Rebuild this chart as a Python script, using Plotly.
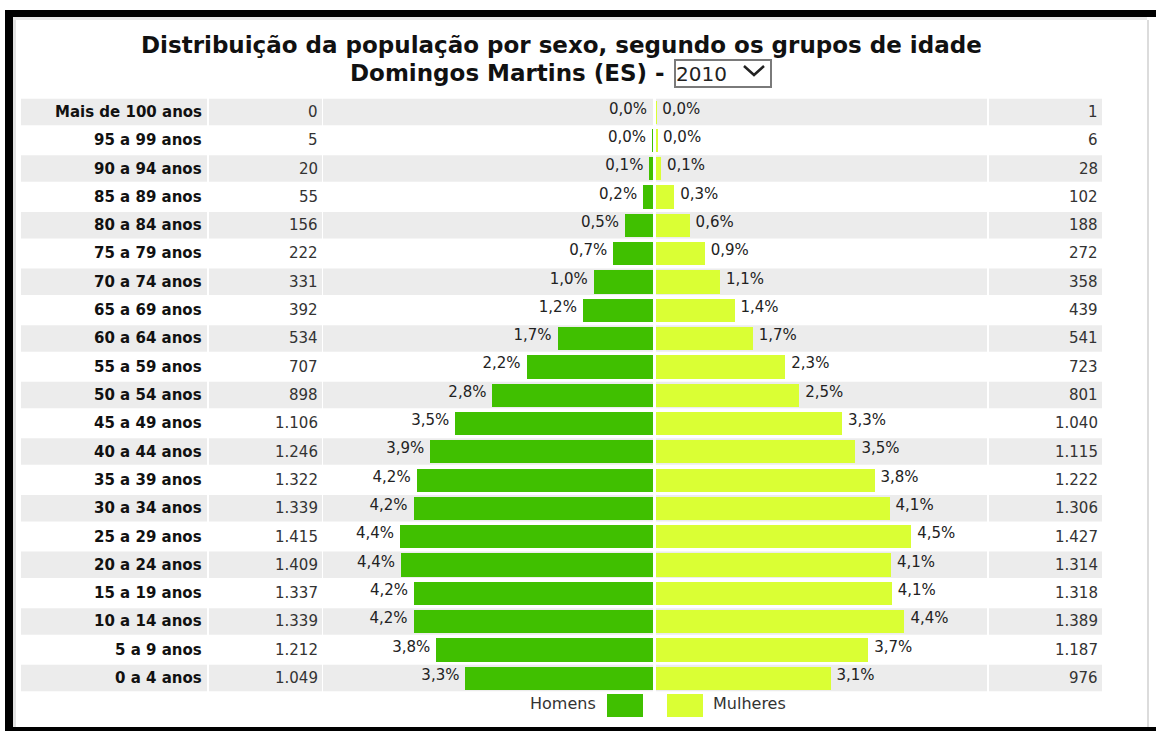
"""Pirâmide etária - Domingos Martins (ES), 2010."""

import plotly.graph_objects as go

# ---------- dados ----------
GRUPOS = [
    "Mais de 100 anos", "95 a 99 anos", "90 a 94 anos", "85 a 89 anos",
    "80 a 84 anos", "75 a 79 anos", "70 a 74 anos", "65 a 69 anos",
    "60 a 64 anos", "55 a 59 anos", "50 a 54 anos", "45 a 49 anos",
    "40 a 44 anos", "35 a 39 anos", "30 a 34 anos", "25 a 29 anos",
    "20 a 24 anos", "15 a 19 anos", "10 a 14 anos", "5 a 9 anos", "0 a 4 anos",
]
HOMENS = [0, 5, 20, 55, 156, 222, 331, 392, 534, 707, 898, 1106,
          1246, 1322, 1339, 1415, 1409, 1337, 1339, 1212, 1049]
MULHERES = [1, 6, 28, 102, 188, 272, 358, 439, 541, 723, 801, 1040,
            1115, 1222, 1306, 1427, 1314, 1318, 1389, 1187, 976]
PCT_HOMENS = ["0,0%", "0,0%", "0,1%", "0,2%", "0,5%", "0,7%", "1,0%", "1,2%",
              "1,7%", "2,2%", "2,8%", "3,5%", "3,9%", "4,2%", "4,2%", "4,4%",
              "4,4%", "4,2%", "4,2%", "3,8%", "3,3%"]
PCT_MULHERES = ["0,0%", "0,0%", "0,1%", "0,3%", "0,6%", "0,9%", "1,1%", "1,4%",
                "1,7%", "2,3%", "2,5%", "3,3%", "3,5%", "3,8%", "4,1%", "4,5%",
                "4,1%", "4,1%", "4,4%", "3,7%", "3,1%"]
ANO = "2010"

# ---------- estilo ----------
W, H = 1156, 731
VERDE = "#40c000"
AMARELO = "#daff34"
CINZA_LINHA = "#ececec"
FONTE = "DejaVu Sans"
TAM = 15


def px(x):
    return x / W


def py(y):
    return 1 - y / H


def milhar(n):
    return f"{n:,}".replace(",", ".")


fig = go.Figure()

fig.add_trace(go.Bar(
    y=GRUPOS, x=HOMENS, orientation="h", xaxis="x", yaxis="y",
    marker=dict(color=VERDE, line=dict(width=0)),
    width=0.82, name="Homens", hoverinfo="x+y",
))
fig.add_trace(go.Bar(
    y=GRUPOS, x=MULHERES, orientation="h", xaxis="x2", yaxis="y",
    marker=dict(color=AMARELO, line=dict(width=0)),
    width=0.82, name="Mulheres", hoverinfo="x+y",
))

# rótulos de percentual (um pouco acima do centro da barra, como no original)
pos_texto = [i - 0.07 for i in range(len(GRUPOS))]
fig.add_trace(go.Scatter(
    x=HOMENS, y=pos_texto, xaxis="x", yaxis="y2", mode="markers+text",
    text=PCT_HOMENS, textposition="middle left", marker=dict(size=8, opacity=0),
    textfont=dict(family=FONTE, size=TAM, color="#222222"),
    cliponaxis=False, hoverinfo="skip",
))
fig.add_trace(go.Scatter(
    x=MULHERES, y=pos_texto, xaxis="x2", yaxis="y2", mode="markers+text",
    text=PCT_MULHERES, textposition="middle right", marker=dict(size=8, opacity=0),
    textfont=dict(family=FONTE, size=TAM, color="#222222"),
    cliponaxis=False, hoverinfo="skip",
))

# ---------- fundo das linhas (zebrado) ----------
CELULAS = [(21, 207), (209, 322), (323, 653), (656, 987), (989, 1102)]
shapes = []
for i, _ in enumerate(GRUPOS):
    if i % 2:
        continue
    for x0, x1 in CELULAS:
        shapes.append(dict(type="rect", xref="paper", yref="y2",
                           x0=px(x0), x1=px(x1), y0=i - 0.468, y1=i + 0.468,
                           fillcolor=CINZA_LINHA, line=dict(width=0), layer="below"))

# moldura
for x0, y0, x1, y1, cor in [
    (5, 10, 13, 731, "black"), (5, 10, 1156, 17, "black"), (5, 727, 1156, 731, "black"),
    (13, 17, 16, 727, "#e2e2e2"), (13, 17, 1147, 20, "#e8e8e8"), (1147, 20, 1149, 727, "#dcdcdc"),
]:
    shapes.append(dict(type="rect", xref="paper", yref="paper",
                       x0=px(x0), x1=px(x1), y0=py(y1), y1=py(y0),
                       fillcolor=cor, line=dict(width=0)))

# legenda
for x0, cor in [(607, VERDE), (667, AMARELO)]:
    shapes.append(dict(type="rect", xref="paper", yref="paper",
                       x0=px(x0), x1=px(x0 + 36), y0=py(717), y1=py(694),
                       fillcolor=cor, line=dict(width=0)))

# seta do seletor de ano
shapes.append(dict(type="path", xref="paper", yref="paper",
                   path=f"M {px(744)},{py(66)} L {px(754)},{py(75)} L {px(764)},{py(66)}",
                   line=dict(color="#222222", width=2.5)))

# ---------- textos da tabela ----------
ann = []
for g, h, m in zip(GRUPOS, HOMENS, MULHERES):
    ann.append(dict(x=px(204), y=g, xref="paper", yref="y", xanchor="right",
                    yanchor="middle", text=g, showarrow=False,
                    font=dict(family=FONTE, size=TAM, color="#111111", weight="bold")))
    ann.append(dict(x=px(320), y=g, xref="paper", yref="y", xanchor="right",
                    yanchor="middle", text=milhar(h), showarrow=False,
                    font=dict(family=FONTE, size=TAM, color="#333333")))
    ann.append(dict(x=px(1100), y=g, xref="paper", yref="y", xanchor="right",
                    yanchor="middle", text=milhar(m), showarrow=False,
                    font=dict(family=FONTE, size=TAM, color="#333333")))

ann += [
    dict(x=px(561), y=py(45), xref="paper", yref="paper", xanchor="center",
         yanchor="middle", showarrow=False,
         text="Distribuição da população por sexo, segundo os grupos de idade",
         font=dict(family=FONTE, size=23, color="#111111", weight="bold")),
    dict(x=px(667), y=py(73), xref="paper", yref="paper", xanchor="right",
         yanchor="middle", showarrow=False, text="Domingos Martins (ES) -",
         font=dict(family=FONTE, size=23, color="#111111", weight="bold")),
    dict(x=px(674), y=py(73.5), xref="paper", yref="paper", xanchor="left",
         yanchor="middle", showarrow=False, text=ANO, align="left",
         width=94, height=25, bordercolor="#7a7a7a", borderwidth=2, borderpad=0,
         font=dict(family=FONTE, size=20, color="#222222")),
    dict(x=px(598), y=py(703), xref="paper", yref="paper", xanchor="right",
         yanchor="middle", showarrow=False, text="Homens",
         font=dict(family=FONTE, size=16, color="#333333")),
    dict(x=px(711), y=py(703), xref="paper", yref="paper", xanchor="left",
         yanchor="middle", showarrow=False, text="Mulheres",
         font=dict(family=FONTE, size=16, color="#333333")),
]

dominio_y = [py(692.2), py(97.8)]
fig.update_layout(
    width=W, height=H,
    margin=dict(l=0, r=0, t=0, b=0),
    paper_bgcolor="white", plot_bgcolor="rgba(0,0,0,0)",
    barmode="overlay", bargap=0,
    xaxis=dict(domain=[px(323), px(653)], range=[1846, 0], visible=False, fixedrange=True),
    xaxis2=dict(domain=[px(656), px(987)], range=[0, 1851], visible=False,
                anchor="y", fixedrange=True),
    yaxis=dict(domain=dominio_y, type="category", categoryorder="array",
               categoryarray=GRUPOS, range=[20.5, -0.5], visible=False, fixedrange=True),
    yaxis2=dict(domain=dominio_y, overlaying="y", range=[20.5, -0.5],
                visible=False, fixedrange=True),
    shapes=shapes,
    annotations=ann,
    showlegend=False,
)

fig.write_html(
    "out.html",
    config={"displayModeBar": False},
    post_script="document.body.style.margin='0';document.body.style.overflow='hidden';",
)
